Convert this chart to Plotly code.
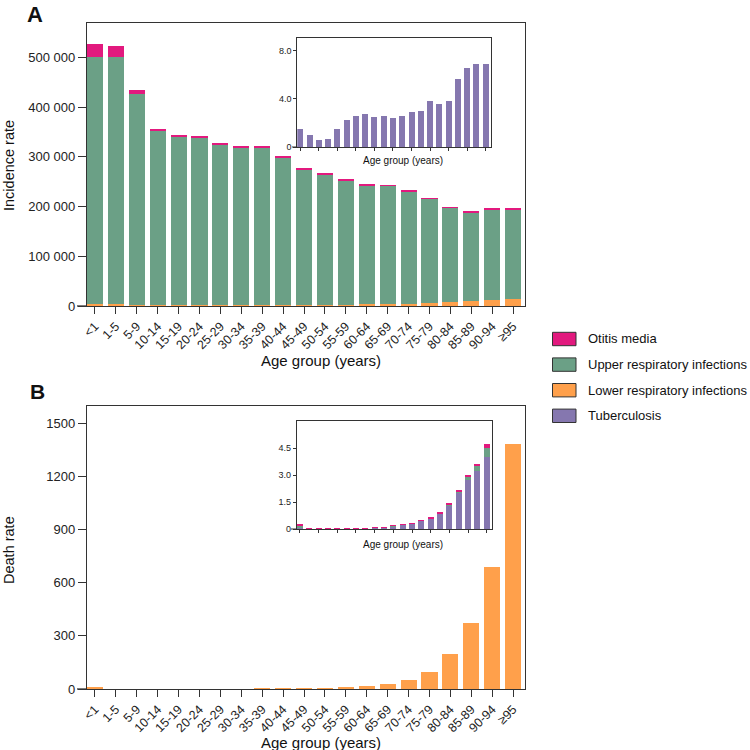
import plotly.graph_objects as go

W = H = 750

age_groups = ["<1", "1-5", "5-9", "10-14", "15-19", "20-24", "25-29", "30-34", "35-39",
              "40-44", "45-49", "50-54", "55-59", "60-64", "65-69", "70-74", "75-79",
              "80-84", "85-89", "90-94", "≥95"]

# ── Panel A: incidence rate (stack segments) ─────────────────────────────────
inc_lri = [4700, 4500, 2500, 1500, 1500, 1500, 1500, 1500, 2000, 2000, 2700,
           2700, 2700, 3300, 4700, 4700, 5400, 7400, 9400, 12000, 14700]
inc_uri = [495900, 496100, 423500, 352500, 340500, 337500, 324500, 318500, 317300,
           297200, 273100, 262300, 251000, 239700, 237600, 226900, 210800, 190700,
           180000, 183400, 180700]
inc_otitis = [26900, 23400, 9000, 3000, 3000, 2000, 1000, 2000, 2000, 2000, 1300,
              2000, 1300, 2000, 1300, 1400, 1300, 1300, 1400, 1400, 1400]
inc_tb = [1.45, 1.0, 0.55, 0.64, 1.46, 2.24, 2.54, 2.76, 2.49, 2.57, 2.40, 2.57,
          2.90, 2.95, 3.81, 3.56, 3.81, 5.63, 6.57, 6.90, 6.85]

# ── Panel B: death rate ──────────────────────────────────────────────────────
death_lri = [11, 1, 0.5, 0.4, 0.5, 0.7, 1, 1.3, 1.8, 2.5, 4, 7, 11, 19, 30, 51,
             97, 195, 370, 690, 1383]
death_tb = [0.04, 0.03, 0.01, 0.01, 0.01, 0.01, 0.03, 0.05, 0.08, 0.10, 0.16, 0.24,
            0.31, 0.45, 0.58, 0.85, 1.33, 2.02, 2.74, 3.24, 3.98]
death_uri = [0.17, 0.02, 0.005, 0.003, 0.003, 0.003, 0.003, 0.003, 0.005, 0.005,
             0.007, 0.01, 0.012, 0.015, 0.02, 0.025, 0.04, 0.07, 0.15, 0.28, 0.54]
death_otitis = [0.07, 0.005, 0.002, 0.001, 0.001, 0.001, 0.001, 0.002, 0.003, 0.004,
                0.005, 0.006, 0.008, 0.012, 0.015, 0.02, 0.03, 0.04, 0.09, 0.09, 0.22]

# tick labels
a_ticks = [0, 100000, 200000, 300000, 400000, 500000]
a_inset_ticks = [0, 4, 8]
a_inset_text = ["0", "4.0", "8.0"]
b_ticks = [0, 300, 600, 900, 1200, 1500]
b_inset_ticks = [0, 1.5, 3.0, 4.5]
b_inset_text = ["0", "1.5", "3.0", "4.5"]

legend_names = ["Otitis media", "Upper respiratory infections",
                "Lower respiratory infections", "Tuberculosis"]

PINK = "#E2197E"
GREEN = "#6BA086"
ORANGE = "#FFA04B"
PURPLE = "#8577AF"
LEGEND_COLORS = [PINK, GREEN, ORANGE, PURPLE]
AXIS = "#333333"
FONT = "Liberation Sans, Arial, sans-serif"


# screen pixel -> paper coordinate
def px(x):
    return x / W


def py(y):
    return 1 - y / H


def bar(y, color, xa, ya, width):
    return go.Bar(x=age_groups, y=y, marker=dict(color=color, line=dict(width=0)),
                  width=width, xaxis=xa, yaxis=ya, showlegend=False)


fig = go.Figure()

# panel A main
fig.add_trace(bar(inc_lri, ORANGE, "x", "y", 0.77))
fig.add_trace(bar(inc_uri, GREEN, "x", "y", 0.77))
fig.add_trace(bar(inc_otitis, PINK, "x", "y", 0.77))
# panel A inset
fig.add_trace(bar(inc_tb, PURPLE, "x2", "y2", 0.65))
# panel B main
fig.add_trace(bar(death_lri, ORANGE, "x3", "y3", 0.77))
# panel B inset
fig.add_trace(bar(death_tb, PURPLE, "x4", "y4", 0.65))
fig.add_trace(bar(death_uri, GREEN, "x4", "y4", 0.65))
fig.add_trace(bar(death_otitis, PINK, "x4", "y4", 0.65))


def xaxis(x0, x1, anchor, rng, labels, lw, ticklen):
    return dict(domain=[px(x0), px(x1)], anchor=anchor, type="category",
                range=rng, showline=True, linecolor=AXIS, linewidth=lw,
                mirror=True, ticks="outside", ticklen=ticklen, tickwidth=lw,
                tickcolor=AXIS, showgrid=False, zeroline=False, automargin=False,
                showticklabels=labels, tickangle=-45,
                tickfont=dict(size=12.5, color="#222"))


def yaxis(y0, y1, anchor, rng, tickvals, ticktext, size, lw, ticklen):
    return dict(domain=[py(y0), py(y1)], anchor=anchor, range=rng,
                showline=True, linecolor=AXIS, linewidth=lw, mirror=True,
                ticks="outside", ticklen=ticklen, tickwidth=lw, tickcolor=AXIS,
                showgrid=False, zeroline=False, automargin=False, tickvals=tickvals,
                ticktext=ticktext, tickfont=dict(size=size, color="#222"))


fmt = lambda v: f"{v:,}".replace(",", " ")

fig.update_layout(
    template="none",
    width=W, height=H,
    margin=dict(l=0, r=0, t=0, b=0, autoexpand=False),
    paper_bgcolor="white", plot_bgcolor="rgba(0,0,0,0)",
    barmode="stack",
    font=dict(family=FONT, color="#222"),
    showlegend=False,
    xaxis=xaxis(87, 525, "y", [-0.38, 20.57], True, 1.3, 7),
    yaxis=yaxis(306, 22.7, "x", [0, 570000], a_ticks, [fmt(v) for v in a_ticks], 13, 1.3, 8),
    xaxis2=xaxis(297.3, 491, "y2", [-0.32, 20.57], False, 1, 3),
    yaxis2=yaxis(147, 38.3, "x2", [0, 9], a_inset_ticks, a_inset_text, 9, 1, 3),
    xaxis3=xaxis(87, 525, "y3", [-0.38, 20.57], True, 1.3, 7),
    yaxis3=yaxis(689, 405.7, "x3", [0, 1600], b_ticks, [str(v) for v in b_ticks], 13, 1.3, 8),
    xaxis4=xaxis(296.7, 492.3, "y4", [-0.35, 20.6], False, 1, 3),
    yaxis4=yaxis(529, 421, "x4", [0, 6], b_inset_ticks, b_inset_text, 9, 1, 3),
)

annotations = []
shapes = []


def text(x, y, s, size, xanchor="center", **kw):
    annotations.append(dict(x=px(x), y=py(y), xref="paper", yref="paper", text=s,
                            showarrow=False, xanchor=xanchor, yanchor="middle",
                            font=dict(size=size, family=FONT, color="#111"), **kw))


# panel letters
text(34.5, 14.5, "<b>A</b>", 22)
text(37, 391.5, "<b>B</b>", 21)
# axis titles
text(9, 166, "Incidence rate", 14.5, textangle=-90)
text(9, 550, "Death rate", 14.5, textangle=-90)
text(321, 360, "Age group (years)", 15)
text(321, 742, "Age group (years)", 15)
text(403, 160, "Age group (years)", 10)
text(403, 544, "Age group (years)", 10)

# x axis lines running a little left of the frame
for x0, x1, y, lw in [(77, 87, 306, 1.3), (77, 87, 689, 1.3),
                      (292, 297.3, 147, 1), (291, 296.7, 529, 1)]:
    shapes.append(dict(type="line", xref="paper", yref="paper", x0=px(x0), x1=px(x1),
                       y0=py(y), y1=py(y), line=dict(color=AXIS, width=lw)))

# legend
for i, (name, color) in enumerate(zip(legend_names, LEGEND_COLORS)):
    cy = 339 + i * 25.6
    shapes.append(dict(type="rect", xref="paper", yref="paper",
                       x0=px(552.5), x1=px(576), y0=py(cy - 6.7), y1=py(cy + 6.7),
                       fillcolor=color, line=dict(color="#333", width=1)))
    text(585.5, cy, name, 13, xanchor="left")

fig.update_layout(annotations=annotations, shapes=shapes)

# drop the default 8 px body margin so the figure sits at the page corner
fig.write_html("out.html", config={"displayModeBar": False},
               post_script="document.body.style.margin = '0';")
